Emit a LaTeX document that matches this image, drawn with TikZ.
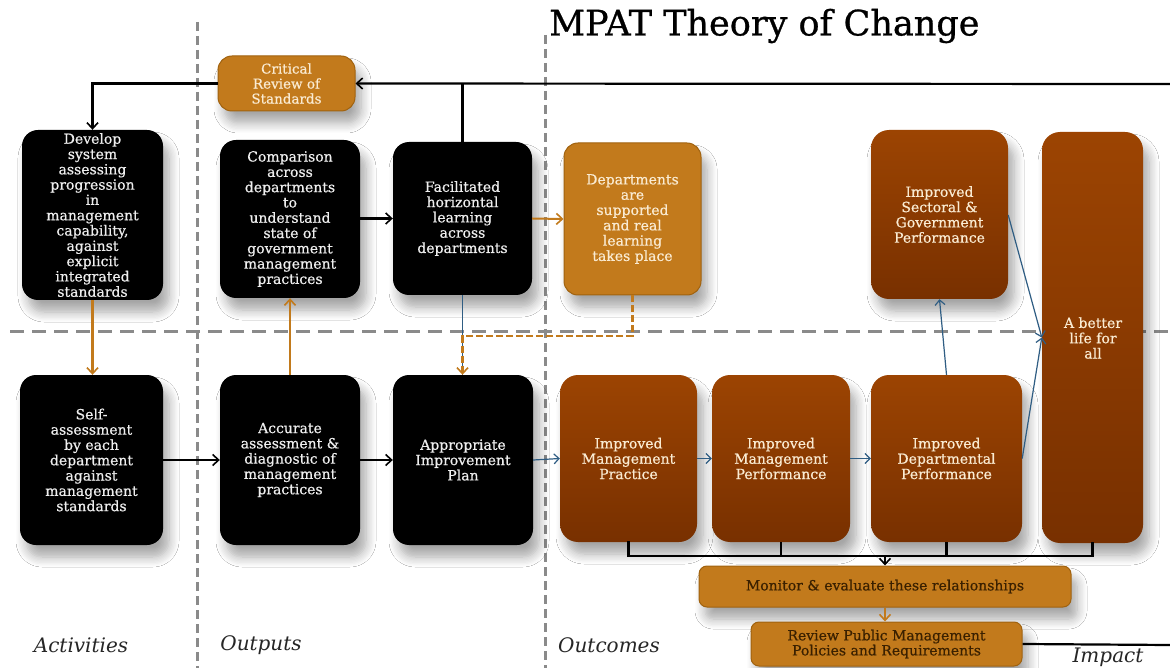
\documentclass[tikz,border=0pt]{standalone}
\usepackage{fontspec}
\setmainfont{DejaVu Serif}
\newfontfamily\boxfont{DejaVu Serif}[FakeBold=0.6]
\newfontfamily\titlefont{DejaVu Serif}[FakeBold=0.8]
\usetikzlibrary{arrows.meta,shadows.blur,calc}
\definecolor{ochre}{HTML}{C27A1C}
\definecolor{ochreline}{HTML}{A0620F}
\definecolor{brownT}{HTML}{9C4402}
\definecolor{brownB}{HTML}{783000}
\definecolor{cream}{HTML}{FAEBD2}
\definecolor{lightgrey}{HTML}{EEEEEE}
\definecolor{bluec}{HTML}{2F5D83}
\definecolor{gridgrey}{HTML}{8A8A8A}
\definecolor{darkbrowntext}{HTML}{3A2000}
\begin{document}
\begin{tikzpicture}[x=1pt,y=-1pt,
 every node/.style={inner sep=2pt},
 shad/.style={blur shadow={shadow xshift=6pt,shadow yshift=-12pt,shadow opacity=35,shadow blur steps=8,shadow blur radius=10pt}},
 txt/.style={font=\boxfont\fontsize{14}{15.3}\selectfont, align=center},
 blackbox/.style={txt, shad, fill=black, text=lightgrey, rounded corners=16pt},
 ochrebox/.style={txt, shad, fill=ochre, draw=ochreline, line width=1pt, text=cream, rounded corners=14pt},
 brownbox/.style={txt, shad, top color=brownT, bottom color=brownB, text=cream, rounded corners=18pt},
 mebox/.style={shad, fill=ochre, draw=ochreline, line width=1pt, text=darkbrowntext, rounded corners=8pt, align=center, font=\boxfont\fontsize{14}{15}\selectfont},
 griddash/.style={gridgrey, line width=3pt, dash pattern=on 9pt off 5pt},
 griddashh/.style={gridgrey, line width=3pt, dash pattern=on 14pt off 8pt},
 blk/.style={black, line width=2.2pt},
 blkarrow/.style={blk, -{Straight Barb[length=6pt,width=11pt,line width=1.6pt]}},
 orarrow/.style={ochre, line width=2.4pt, -{Straight Barb[length=6pt,width=11pt,line width=1.6pt]}},
 bluearrow/.style={bluec, line width=1.2pt, -{Straight Barb[length=5pt,width=10pt,line width=1.2pt]}},
 lab/.style={font=\fontsize{20}{22}\selectfont\itshape, text=black!85}
]
\useasboundingbox (0,0) rectangle (1170,668);
\fill[white] (0,0) rectangle (1170,668);

% dashed grid
\draw[griddash] (197,22) -- (197,668);
\draw[griddash] (545,35) -- (545,668);
\draw[griddashh] (10,332) -- (1170,332);

% title
\node[font=\titlefont\fontsize{35}{37}\selectfont, anchor=west, inner sep=0pt] (title) at (549,26) {MPAT Theory of Change};

% boxes top row
\node[ochrebox, minimum width=137, minimum height=55, font=\boxfont\fontsize{13.5}{15}\selectfont] (crit) at (286.5,83.5) {Critical\\Review of\\Standards};
\node[blackbox, minimum width=141, minimum height=170] (dev) at (92.5,215) {Develop\\system\\assessing\\progression\\in\\management\\capability,\\against\\explicit\\integrated\\standards};
\node[blackbox, minimum width=140, minimum height=158] (comp) at (290,219) {Comparison\\across\\departments\\to\\understand\\state of\\government\\management\\practices};
\node[blackbox, minimum width=139, minimum height=153] (fac) at (462.5,218.5) {Facilitated\\horizontal\\learning\\across\\departments};
\node[ochrebox, minimum width=137, minimum height=152] (dep) at (632.5,219) {Departments\\are\\supported\\and real\\learning\\takes place};
\node[brownbox, minimum width=137, minimum height=169] (sect) at (939.5,214.5) {Improved\\Sectoral \& \\Government\\Performance};
\node[brownbox, minimum width=101, minimum height=411] (life) at (1092.5,337.5) {};
\node[txt, text=cream] (lifetext) at (1093,338) {A better\\life for\\all};

% boxes bottom row
\node[blackbox, minimum width=143, minimum height=170] (self) at (91.5,460) {Self-\\assessment\\by each\\department\\against\\management\\standards};
\node[blackbox, minimum width=140, minimum height=170] (acc) at (290,460) {Accurate\\assessment \&\\diagnostic of\\management\\practices};
\node[blackbox, minimum width=140, minimum height=170] (appr) at (463,460) {Appropriate\\Improvement\\Plan};
\node[brownbox, minimum width=137, minimum height=167] (imp) at (628.5,458.5) {Improved\\Management\\Practice};
\node[brownbox, minimum width=138, minimum height=167] (imperf) at (781,458.5) {Improved\\Management\\Performance};
\node[brownbox, minimum width=151, minimum height=167] (idp) at (946.5,458.5) {Improved\\Departmental\\Performance};
\node[mebox, minimum width=372, minimum height=41] (mon) at (885,586.5) {Monitor \& evaluate these relationships};
\node[mebox, minimum width=271, minimum height=44] (rev) at (886.5,644) {Review Public Management\\Policies and Requirements};

% labels
\node[lab] (act) at (81,645) {Activities};
\node[lab] (outp) at (261,645) {Outputs};
\node[lab] (outc) at (609,645) {Outcomes};
\node[lab] (impact) at (1108,657) {Impact};

% feedback loop
\coordinate (topright) at (1170,84);
\draw[blkarrow] (topright) -- (crit.east);
\draw[blk] (fac.north) -- (fac.north |- topright);
\draw[blkarrow] (crit.west) -| (dev.north);

% black arrows
\draw[blkarrow] (comp.east |- fac.west) -- (fac.west);
\draw[blkarrow] (self.east) -- (acc.west);
\draw[blkarrow] (acc.east) -- (appr.west);

% orange arrows
\draw[orarrow] (dev.south) -- (dev.south |- self.north);
\draw[orarrow] (acc.north) -- (acc.north |- comp.south);
\draw[orarrow, line width=2pt] (fac.east) -- (dep.west);

% blue + dashed orange into plan
\draw[bluec, line width=1.4pt] (fac.south) -- (fac.south |- appr.north);
\coordinate (dashcorner) at (632.5,336);
\draw[ochre, line width=2.4pt, dash pattern=on 7pt off 3pt] (dep.south) -- (dashcorner) -- (dashcorner -| fac.south) -- ($(appr.north)+(-0.5,-6)$);
\draw[orarrow] ($(appr.north)+(-0.5,-8)$) -- ($(appr.north)+(-0.5,0)$);

% blue outcome arrows
\draw[bluearrow] (appr.east) -- (imp.west);
\draw[bluearrow] (imp.east) -- (imperf.west);
\draw[bluearrow] (imperf.east) -- (idp.west);
\draw[bluearrow] (idp.north) -- (sect.south);
\draw[bluearrow] ($(sect.east)+(0,0.5)$) -- (life.west);
\draw[bluearrow] (idp.east) -- (life.west);

% monitoring bus
\coordinate (busL) at ($(imp.south)+(0,14)$);
\draw[blk, line cap=rect] (imp.south) -- (busL) -- (busL -| life.south) -- (life.south);
\draw[blk] (imperf.south) -- (imperf.south |- busL);
\draw[blk] (idp.south) -- (idp.south |- busL);
\draw[blkarrow] (busL -| mon.north) -- (mon.north);
\draw[orarrow] (mon.south) -- (mon.south |- rev.north);
\coordinate (impactend) at (1170,645);
\draw[blk] (rev.east) -- (impactend);
\end{tikzpicture}
\end{document}
